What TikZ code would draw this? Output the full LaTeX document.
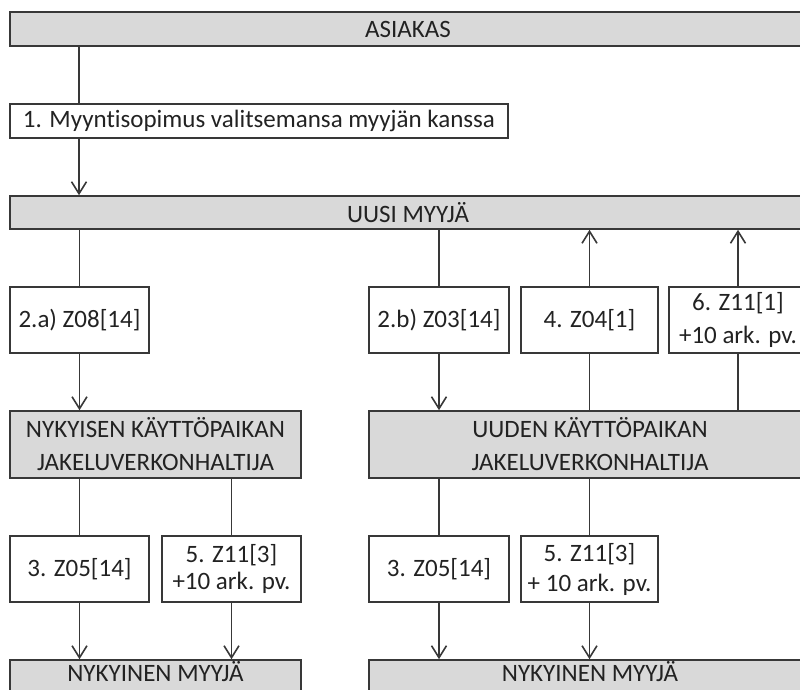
\documentclass[tikz,border=0pt]{standalone}
\usepackage{fontspec}
\setmainfont{Carlito}[Ligatures={NoCommon}]
\usetikzlibrary{arrows.meta}
\definecolor{bargray}{HTML}{D9D9D9}
\definecolor{edge}{HTML}{383838}
\definecolor{ink}{HTML}{222222}
\begin{document}
\begin{tikzpicture}[x=1pt,y=-1pt,
  box/.style={draw=edge, line width=1.6pt, inner sep=0pt, text=ink, align=center,
    font=\fontsize{25}{30}\selectfont},
  party/.style={box, fill=bargray},
  link/.style={draw=edge, line width=1.6pt},
  flow/.style={link, -{Straight Barb[length=12pt,width=15pt]}}]
\useasboundingbox (0,0) rectangle (800,690);

% parties (grey bars)
\node[party, minimum width=796pt, minimum height=33.5pt] (asiakas) at (408,29) {ASIAKAS};
\node[party, minimum width=796pt, minimum height=33pt] (uusi) at (408,212.5) {UUSI MYYJÄ};
\node[party, minimum width=291pt, minimum height=67pt, font=\fontsize{25}{33}\selectfont]
  (nyk) at (155.5,444.5) {NYKYISEN KÄYTTÖPAIKAN\\JAKELUVERKONHALTIJA};
\node[party, minimum width=442pt, minimum height=67pt, font=\fontsize{25}{33}\selectfont]
  (uuden) at (590,444.5) {UUDEN KÄYTTÖPAIKAN\\JAKELUVERKONHALTIJA};
\node[party, minimum width=291pt, minimum height=34pt, text height=18pt, text depth=10pt]
  (botL) at (155.5,677) {NYKYINEN MYYJÄ};
\node[party, minimum width=442pt, minimum height=34pt, text height=18pt, text depth=10pt]
  (botR) at (590,677) {NYKYINEN MYYJÄ};

% messages (white boxes)
\node[box, minimum width=498pt, minimum height=34pt] (box1) at (259,121)
  {1. Myyntisopimus valitsemansa myyjän kanssa};
\node[box, minimum width=139pt, minimum height=66pt] (a2) at (79.5,320) {2.a) Z08[14]};
\node[box, minimum width=140pt, minimum height=66pt] (b2) at (439,320) {2.b) Z03[14]};
\node[box, minimum width=137pt, minimum height=66pt] (z4) at (589.5,320) {4. Z04[1]};
\node[box, minimum width=138pt, minimum height=66pt, font=\fontsize{25}{33}\selectfont]
  (z6) at (738,320) {6. Z11[1]\\+10 ark. pv.};
\node[box, minimum width=139pt, minimum height=66pt] (l3) at (79.5,569) {3. Z05[14]};
\node[box, minimum width=139pt, minimum height=66pt, font=\fontsize{25}{27}\selectfont]
  (l5) at (231.5,569) {5. Z11[3]\\+10 ark. pv.};
\node[box, minimum width=140pt, minimum height=66pt] (r3) at (439,569) {3. Z05[14]};
\node[box, minimum width=137pt, minimum height=66pt, font=\fontsize{25}{30}\selectfont]
  (r5) at (589.5,569) {5. Z11[3]\\+ 10 ark. pv.};

\coordinate (colA) at (79,0);

% connectors
\draw[link] (asiakas.south -| colA) -- (box1.north -| colA);
\draw[flow] (box1.south -| colA) -- (uusi.north -| colA);

\draw[link] (uusi.south -| a2.north) -- (a2.north);
\draw[flow] (a2.south) -- (nyk.north -| a2.south);
\draw[link] (uusi.south -| b2.north) -- (b2.north);
\draw[flow] (b2.south) -- (uuden.north -| b2.south);

\draw[link] (uuden.north -| z4.south) -- (z4.south);
\draw[flow] (z4.north) -- (uusi.south -| z4.north);
\draw[link] (uuden.north -| z6.south) -- (z6.south);
\draw[flow] (z6.north) -- (uusi.south -| z6.north);

\draw[link] (nyk.south -| l3.north) -- (l3.north);
\draw[flow] (l3.south) -- (botL.north -| l3.south);
\draw[link] (nyk.south -| l5.north) -- (l5.north);
\draw[flow] (l5.south) -- (botL.north -| l5.south);

\draw[link] (uuden.south -| r3.north) -- (r3.north);
\draw[flow] (r3.south) -- (botR.north -| r3.south);
\draw[link] (uuden.south -| r5.north) -- (r5.north);
\draw[flow] (r5.south) -- (botR.north -| r5.south);
\end{tikzpicture}
\end{document}
